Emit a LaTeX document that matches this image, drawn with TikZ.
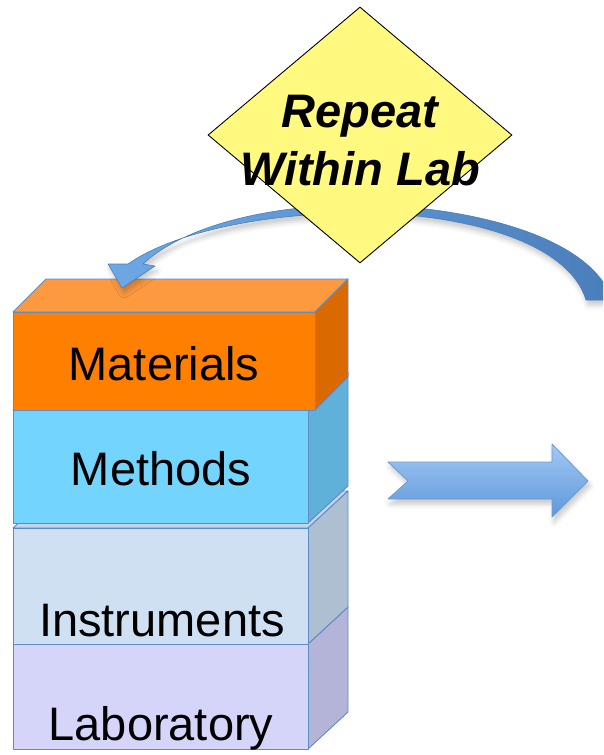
\documentclass[tikz,border=0pt]{standalone}
\usepackage{fontspec}
\setmainfont{Liberation Sans}
\usetikzlibrary{shapes.geometric,shadows.blur}

\definecolor{edgeblue}{HTML}{5B8CC7}
\definecolor{matTop}{HTML}{FD9A40}
\definecolor{matFront}{HTML}{FF7F00}
\definecolor{matSide}{HTML}{DA6A00}
\definecolor{metTop}{HTML}{8ADCFF}
\definecolor{metFront}{HTML}{73D4FE}
\definecolor{metSide}{HTML}{5FB1D9}
\definecolor{insTop}{HTML}{C3D5E9}
\definecolor{insFront}{HTML}{CFE0F2}
\definecolor{insSide}{HTML}{ADBFD0}
\definecolor{labFront}{HTML}{D5D5FA}
\definecolor{labSide}{HTML}{B3B4D8}
\definecolor{arrowLight}{HTML}{A3C8F4}
\definecolor{arrowDark}{HTML}{5E98DA}
\definecolor{arrowEdge}{HTML}{6C9BD0}
\definecolor{curveLight}{HTML}{6EA8E4}
\definecolor{curveDark}{HTML}{4A7EBB}
\definecolor{diamondFill}{HTML}{FFFA7F}

\begin{document}
\begin{tikzpicture}[x=1pt,y=-1pt,
  face/.style={draw=edgeblue, line width=0.9pt, line join=round},
  frontface/.style={face, rectangle, inner sep=0pt, anchor=north west},
  blocklabel/.style={font=\fontsize{47}{56}\selectfont, anchor=base, inner sep=0pt},
  decisiontext/.style={font=\fontsize{47}{56}\selectfont\bfseries\itshape, anchor=base, inner sep=0pt},
  softshadow/.style={blur shadow={shadow xshift=2pt, shadow yshift=-5pt, shadow opacity=22, shadow blur radius=5pt}}]

\useasboundingbox (0,0) rectangle (603,755);
\clip (0,0) rectangle (603,755);

% Laboratory block (bottom of the stack)
\path[face, fill=labSide] (308,749) -- (308,644) -- (348,607) -- (348,712) -- cycle;
\node[frontface, fill=labFront, minimum width=295pt, minimum height=105pt] (labfront) at (13,644) {};
\node[blocklabel] (lab) at (161,740) {Laboratory};

% Instruments block
\path[face, fill=insTop] (13,528) -- (53,491) -- (348,491) -- (308,528) -- cycle;
\path[face, fill=insSide] (308,644) -- (308,528) -- (348,491) -- (348,607) -- cycle;
\node[frontface, fill=insFront, minimum width=295pt, minimum height=116pt] (insfront) at (13,528) {};
\node[blocklabel] (ins) at (162,636) {Instruments};

% Methods block
\path[face, fill=metTop] (13,410) -- (53,373) -- (348,373) -- (308,410) -- cycle;
\path[face, fill=metSide] (308,523) -- (308,410) -- (348,373) -- (348,486) -- cycle;
\node[frontface, fill=metFront, minimum width=295pt, minimum height=113pt] (metfront) at (13,410) {};
\node[blocklabel] (met) at (161,485) {Methods};

% Materials block (top of the stack)
\path[face, fill=matTop] (13,312) -- (46,279) -- (348,279) -- (315,312) -- cycle;
\path[face, fill=matSide] (315,410) -- (315,312) -- (348,279) -- (348,377) -- cycle;
\node[frontface, fill=matFront, minimum width=302pt, minimum height=98pt] (matfront) at (13,312) {};
\node[blocklabel] (mat) at (164,380) {Materials};

% Block arrow pointing right
\path[draw=arrowEdge, line width=0.8pt, line join=round, top color=arrowLight, bottom color=arrowDark, softshadow]
  (388,462) -- (552,462) -- (552,444) -- (588,481) -- (552,517) -- (552,499)
  -- (388,499) -- (408,481) -- cycle;

% Curved return arrow over the stack
\path[draw=curveDark, line width=0.6pt, line join=round, left color=curveLight, right color=curveDark, softshadow]
  (612,300) .. controls (590,232) and (455,205) .. (360,205)
  .. controls (262,205) and (182,228) .. (143,264)
  -- (155,266) -- (122,288) -- (108,264) -- (128,264)
  .. controls (172,233) and (262,213) .. (360,213)
  .. controls (458,213) and (568,240) .. (586,300) -- cycle;

% Decision diamond
\node[diamond, draw=black, line width=0.9pt, fill=diamondFill, inner sep=0pt,
  minimum width=304pt, minimum height=256pt] (repeat) at (360,135) {};
\node[decisiontext] (repeatA) at (360,127) {Repeat};
\node[decisiontext] (repeatB) at (360,185) {Within Lab};

\end{tikzpicture}
\end{document}
